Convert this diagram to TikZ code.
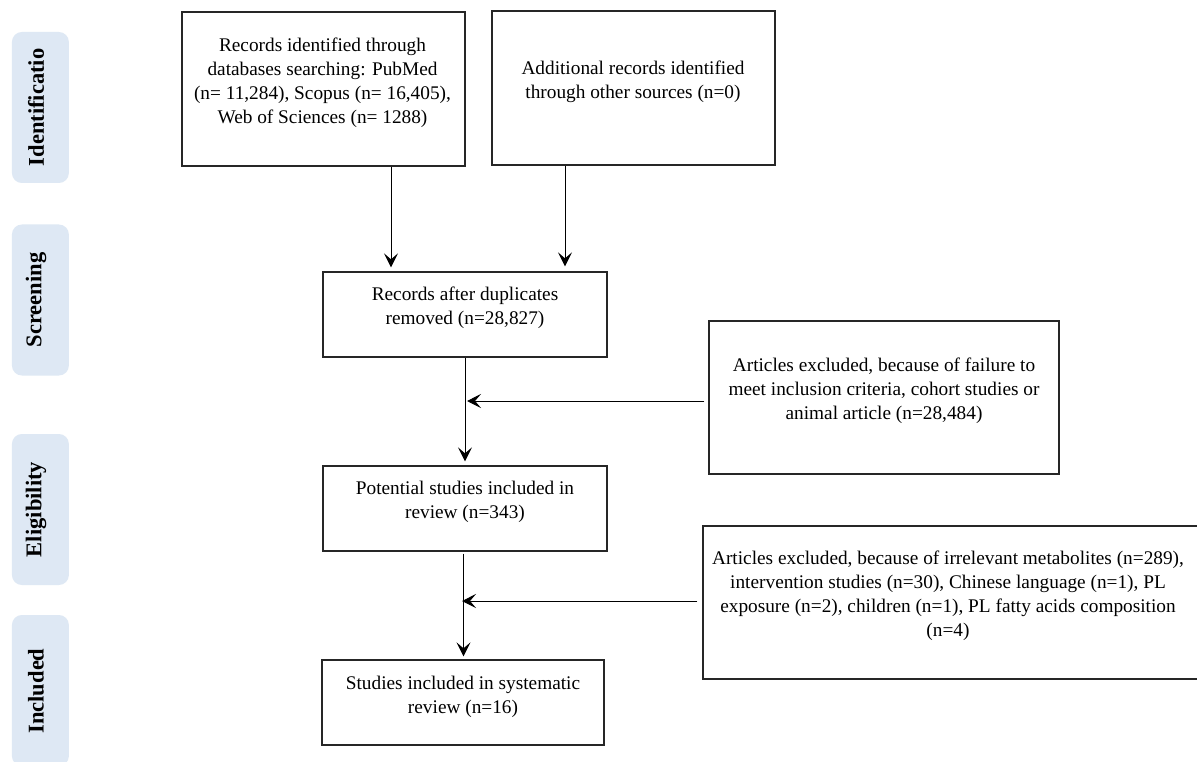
\documentclass[tikz,border=0pt]{standalone}
\usepackage{fontspec}
\setmainfont{Liberation Serif}
\usetikzlibrary{arrows.meta}
\definecolor{tabblue}{HTML}{DEE8F4}
\definecolor{boxline}{HTML}{262626}
\begin{document}
\begin{tikzpicture}[x=1pt,y=-1pt,
  tab/.style={fill=tabblue, rounded corners=10pt, draw=none, minimum width=57pt, minimum height=151pt, inner sep=0pt},
  tabtext/.style={font=\fontsize{22.5}{24}\selectfont\bfseries, rotate=90, inner sep=0pt},
  box/.style={draw=boxline, line width=1.3pt, inner sep=0pt},
  txt/.style={font=\fontsize{19.3}{24}\selectfont, align=center, inner sep=0pt},
  arr/.style={draw=black, line width=0.9pt, -{Stealth[length=14pt,width=14pt,inset=6pt]}}]
\clip (0,0) rectangle (1197,762);
\useasboundingbox (0,0) rectangle (1197,762);
\fill[white] (0,0) rectangle (1197,762);

% side tabs
\node[tab] (tid) at (40.4,107.5) {};
\node[tabtext] (tidt) at (36,107.5) {Identificatio};
\node[tab] (tsc) at (40.4,300) {};
\node[tabtext] (tsct) at (36,300) {Screening};
\node[tab] (tel) at (40.4,509.5) {};
\node[tabtext] (telt) at (36,509.5) {Eligibility};
\node[tab] (tin) at (40.4,690.5) {};
\node[tabtext] (tint) at (36,691) {Included};

% boxes
\node[box, minimum width=283pt, minimum height=154pt] (b1) at (323.5,89) {};
\node[txt] (t1) at (322.5,82.5) {Records identified through\\databases searching: PubMed\\(n= 11,284), Scopus (n= 16,405),\\Web of Sciences (n= 1288)};

\node[box, minimum width=283pt, minimum height=154pt] (b2) at (633.5,88) {};
\node[txt] (t2) at (633,81.5) {Additional records identified\\through other sources (n=0)};

\node[box, minimum width=284pt, minimum height=85pt] (b3) at (465,314.5) {};
\node[txt] (t3) at (465,307.5) {Records after duplicates\\removed (n=28,827)};

\node[box, minimum width=284pt, minimum height=85pt] (b4) at (465,508.5) {};
\node[txt] (t4) at (465,502) {Potential studies included in\\review (n=343)};

\node[box, minimum width=282pt, minimum height=85pt] (b5) at (463,702.5) {};
\node[txt] (t5) at (463,697) {Studies included in systematic\\review (n=16)};

\node[box, minimum width=350pt, minimum height=153pt] (e1) at (884,397.5) {};
\node[txt] (te1) at (884,391) {Articles excluded, because of failure to\\meet inclusion criteria, cohort studies or\\animal article (n=28,484)};

\node[box, minimum width=496pt, minimum height=153pt] (e2) at (951,602.5) {};
\node[txt] (te2) at (948,595.5) {Articles excluded, because of irrelevant metabolites (n=289),\\intervention studies (n=30), Chinese language (n=1), PL\\exposure (n=2), children (n=1), PL fatty acids composition\\(n=4)};

% connector helper points
\coordinate (e1out) at ([yshift=-3.5pt]e1.west);
\coordinate (e2out) at ([yshift=1.5pt]e2.west);
\coordinate (v2top) at ([xshift=-1.5pt,yshift=-2pt]b4.south);
\coordinate (v2x) at ([xshift=-3pt]b4.south);

% connectors
\draw[arr, shorten >=4pt] ([xshift=67.5pt]b1.south) -- ([xshift=67.5pt]b1.south |- b3.north);
\draw[arr, shorten >=5pt] ([xshift=-68.5pt]b2.south) -- ([xshift=-68.5pt]b2.south |- b3.north);
\draw[arr, shorten >=4pt] (b3.south) -- (b4.north);
\draw[arr, shorten <=4pt, shorten >=2pt] (e1out) -- (b3.south |- e1out);
\draw[arr, shorten >=3pt] (v2top) -- (v2top |- b5.north);
\draw[arr, shorten <=5pt] (e2out) -- (v2x |- e2out);
\end{tikzpicture}
\end{document}
